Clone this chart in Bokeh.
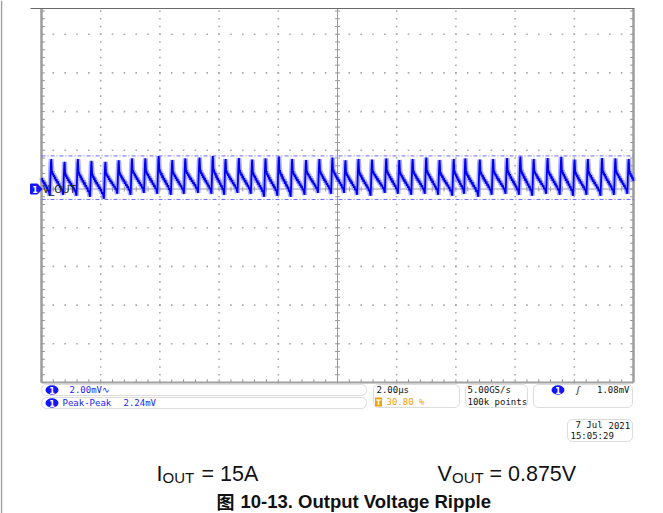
import numpy as np
from bokeh.plotting import figure
from bokeh.models import Label, BoxAnnotation
from bokeh.embed import file_html
from bokeh.resources import INLINE

# ---------------- data ----------------
# time of every ripple peak (µs, 2 µs/div, screen 0..20 µs)
peak_times_us = [-0.12, 0.33, 0.78, 1.23, 1.69, 2.16, 2.61, 3.06, 3.51, 3.96, 4.42,
                 4.86, 5.34, 5.79, 6.22, 6.67, 7.12, 7.57, 8.02, 8.47, 8.94,
                 9.39, 9.83, 10.27, 10.71, 11.17, 11.65, 12.09, 12.54, 13.00, 13.45,
                 13.93, 14.32, 14.81, 15.26, 15.73, 16.18, 16.63, 17.10, 17.56, 18.01,
                 18.46, 18.94, 19.39, 19.84, 20.29]
# peak value of each ripple (mV, relative to the channel marker)
peak_mv = [1.50, 1.55, 1.40, 1.55, 1.45, 1.40, 1.48, 1.58, 1.58, 1.70, 1.50,
           1.58, 1.62, 1.70, 1.55, 1.60, 1.52, 1.58, 1.68, 1.55, 1.50,
           1.55, 1.62, 1.48, 1.55, 1.52, 1.58, 1.50, 1.55, 1.62, 1.50,
           1.55, 1.58, 1.52, 1.55, 1.60, 1.68, 1.55, 1.60, 1.66, 1.52,
           1.55, 1.60, 1.58, 1.55, 1.50]
# lowest value between consecutive peaks (mV)
trough_mv = [-0.35, -0.30, -0.35, -0.40, -0.50, -0.25, -0.30, -0.20, -0.25, -0.30,
             -0.25, -0.20, -0.25, -0.30, -0.20, -0.25, -0.40, -0.35, -0.40, -0.30,
             -0.20, -0.25, -0.20, -0.30, -0.35, -0.20, -0.25, -0.30, -0.25, -0.30,
             -0.35, -0.25, -0.40, -0.30, -0.25, -0.30, -0.35, -0.25, -0.30, -0.35,
             -0.30, -0.35, -0.30, -0.25, -0.30]
# shape of one ripple cycle as traced on screen (phase 0 = peak, level 0 = trough, 1 = peak)
cycle_phase = [0.00, 0.02, 0.05, 0.08, 0.11, 0.14, 0.18, 0.22, 0.26, 0.30, 0.35, 0.40,
               0.45, 0.50, 0.55, 0.60, 0.65, 0.70, 0.75, 0.80, 0.85, 0.89, 0.92, 0.95, 0.975]
cycle_level = [1.00, 0.85, 0.60, 0.66, 0.55, 0.60, 0.50, 0.56, 0.44, 0.50, 0.38, 0.44,
               0.32, 0.38, 0.26, 0.31, 0.20, 0.25, 0.13, 0.17, 0.06, 0.00, 0.30, 0.65, 0.90]
cursor_top_mv = 1.71
cursor_bottom_mv = -0.54
screen_t = (0.0, 20.0)      # 10 div x 2 µs
screen_v = (-10.0, 9.33)    # 2 mV/div, top cropped

t_all, v_all = [], []
for k in range(len(peak_times_us) - 1):
    t0, t1 = peak_times_us[k], peak_times_us[k + 1]
    for ph, r in zip(cycle_phase, cycle_level):
        top = peak_mv[k] if ph < 0.9 else peak_mv[k + 1]
        t = t0 + ph * (t1 - t0)
        if screen_t[0] <= t <= screen_t[1]:
            t_all.append(t)
            v_all.append(trough_mv[k] + r * (top - trough_mv[k]))

# ---------------- figure: frame = whole canvas ----------------
W, H = 663, 513
PX_PER_US = 29.6
PX_PER_MV = 19.346
SX0, SY0 = 41.0, 188.5   # pixel of t=0, v=0


def dx(xp):
    return (xp - SX0) / PX_PER_US


def dy(yp):
    return (SY0 - yp) / PX_PER_MV


p = figure(width=W, height=H, x_range=(dx(0), dx(W)), y_range=(dy(H), dy(0)),
           output_backend="svg", toolbar_location=None, title=None,
           x_axis_location=None, y_axis_location=None,
           min_border_left=0, min_border_right=0, min_border_top=0, min_border_bottom=0,
           background_fill_color="white", border_fill_color="white",
           outline_line_color=None)
p.grid.visible = False

X0, X1 = screen_t
Y0, Y1 = screen_v

# document edge line at far left
p.segment(x0=[dx(1)], y0=[dy(0)], x1=[dx(1)], y1=[dy(H)], line_color="#a0a0a0", line_width=1.5)

# graticule dots
sub_x = np.arange(0, 20.001, 0.4)
sub_y = np.arange(-10, 9.3, 0.4)
div_x = [2, 4, 6, 8, 12, 14, 16, 18]
div_y = [-8, -6, -4, -2, 2, 4, 6, 8]
gx, gy = [], []
for yv in div_y:
    gx += list(sub_x[1:-1]); gy += [yv] * (len(sub_x) - 2)
for xv in div_x:
    gx += [xv] * len(sub_y); gy += list(sub_y)
p.scatter(gx, gy, marker="square", size=1.6, fill_color="#a8a8a8", line_color=None)

# centre cross with ticks
p.segment(x0=[X0, 10], y0=[0, Y0], x1=[X1, 10], y1=[0, Y1], line_color="#9a9a9a", line_width=1)
hx = 2.5 / PX_PER_US
hy = 2.5 / PX_PER_MV
p.segment(x0=list(sub_x), y0=[-hy] * len(sub_x), x1=list(sub_x), y1=[hy] * len(sub_x),
          line_color="#9a9a9a", line_width=1)
p.segment(x0=[10 - hx] * len(sub_y), y0=list(sub_y), x1=[10 + hx] * len(sub_y), y1=list(sub_y),
          line_color="#9a9a9a", line_width=1)
# edge ticks
p.segment(x0=[X0] * len(sub_y), y0=list(sub_y), x1=[X0 + 0.11] * len(sub_y), y1=list(sub_y),
          line_color="#8a8a8a", line_width=1)
p.segment(x0=[X1 - 0.11] * len(sub_y), y0=list(sub_y), x1=[X1] * len(sub_y), y1=list(sub_y),
          line_color="#8a8a8a", line_width=1)
p.segment(x0=list(sub_x), y0=[Y0] * len(sub_x), x1=list(sub_x), y1=[Y0 + 0.16] * len(sub_x),
          line_color="#8a8a8a", line_width=1)

# screen borders
p.segment(x0=[X0, X1], y0=[Y0, Y0], x1=[X0, X1], y1=[Y1, Y1], line_color="#9c9c9c", line_width=2.5)
p.segment(x0=[X0], y0=[Y0], x1=[X1], y1=[Y0], line_color="#a0a0a0", line_width=2)
p.segment(x0=[dx(30)], y0=[Y1], x1=[X1 + 0.03], y1=[Y1], line_color="#6a6a6a", line_width=1.2)

# cursors
p.segment(x0=[X0, X0], y0=[cursor_top_mv, cursor_bottom_mv], x1=[X1, X1],
          y1=[cursor_top_mv, cursor_bottom_mv], line_color="#6a6aff",
          line_dash="4 2 1 2", line_width=1)

# trace
p.line(t_all, v_all, line_color="#8c8cff", line_width=5, line_alpha=0.7)
p.line(t_all, v_all, line_color="#0000f0", line_width=1.8)

MONO = "DejaVu Sans Mono"
BLUE = "#2323f0"
CH_BLUE = "#1414ff"


def lab(xp, yp, text, color="#111111", size="9px", font=MONO, align="left",
        baseline="middle", style="normal", **kw):
    p.add_layout(Label(x=dx(xp), y=dy(yp), text=text, text_color=color, text_font=font,
                       text_font_size=size, text_align=align, text_baseline=baseline,
                       text_font_style=style, **kw))


# channel marker (arrow shape) and trace name
mk_x = [30, 37, 41.5, 37, 30]
mk_y = [183.5, 183.5, 188.5, 193.5, 193.5]
p.patch([dx(v) for v in mk_x], [dy(v) for v in mk_y], fill_color=CH_BLUE, line_color=CH_BLUE)
lab(34.5, 188.8, "1", color="white", size="8px", font="DejaVu Sans", style="bold", align="center")
lab(42, 188.5, "V_OUT", color="#222222", size="10px", font="DejaVu Sans")


# info boxes
def box(x0, x1, y0, y1):
    p.add_layout(BoxAnnotation(left=dx(x0), right=dx(x1), top=dy(y0), bottom=dy(y1),
                               fill_color="white", fill_alpha=1.0, line_color="#8c8c8c",
                               line_width=1, border_radius=5, level="annotation"))


box(41, 366, 384, 395)
box(41, 366, 397, 408)
box(373, 459, 384, 407)
box(465, 527, 384, 407)
box(533, 632, 384, 407)
box(567, 632, 419, 441)

badge_x, badge_y = [51.5, 51.5, 557.5], [389.5, 402.5, 389.5]
p.ellipse(x=[dx(v) for v in badge_x], y=[dy(v) for v in badge_y],
          width=13 / PX_PER_US, height=9.5 / PX_PER_MV, fill_color=CH_BLUE, line_color=None,
          level="overlay")
p.rect(x=[dx(378)], y=[dy(401.5)], width=7 / PX_PER_US, height=9 / PX_PER_MV,
       fill_color="#f2a100", line_color=None, level="overlay")
for bx, by in zip(badge_x, badge_y):
    lab(bx, by + 0.3, "1", color="white", size="8px", font="DejaVu Sans", style="bold",
        align="center", level="overlay")
lab(378, 401.8, "T", color="white", size="7.5px", font="DejaVu Sans", style="bold",
    align="center", level="overlay")

lab(69, 389.5, "2.00mV\u223f", color=BLUE, level="overlay")
lab(62, 402.5, "Peak-Peak", color=BLUE, level="overlay")
lab(123, 402.5, "2.24mV", color=BLUE, level="overlay")

lab(376, 389.5, "2.00\u00b5s", level="overlay")
lab(386, 401.5, "30.80 %", color="#f0a000", level="overlay")

lab(467, 389.5, "5.00GS/s", level="overlay")
lab(467, 401.5, "100k points", level="overlay")

lab(575, 389.5, "\u0283", style="italic", level="overlay")
lab(629, 389.5, "1.08mV", align="right", level="overlay")

lab(575, 424.5, "7 Jul", level="overlay")
lab(608, 424.5, "2021", level="overlay")
lab(570, 435.5, "15:05:29", level="overlay")

# captions
SANS = "Liberation Sans"
lab(156, 473, "I", size="21.5px", font=SANS, baseline="alphabetic")
lab(162, 477, "OUT", size="15px", font=SANS, baseline="alphabetic")
lab(201, 473, "= 15A", size="21.5px", font=SANS, baseline="alphabetic")
lab(437, 473, "V", size="21.5px", font=SANS, baseline="alphabetic")
lab(451.5, 477, "OUT", size="15px", font=SANS, baseline="alphabetic")
lab(489, 473, "= 0.875V", size="21.5px", font=SANS, baseline="alphabetic")
lab(216, 500.5, "\u56fe", size="18px", font="Noto Sans CJK SC", style="bold",
    baseline="alphabetic")
lab(240, 500.5, "10-13. Output Voltage Ripple", size="18.5px", font=SANS, style="bold",
    baseline="alphabetic")

open("out.html", "w").write(file_html(p, INLINE))
